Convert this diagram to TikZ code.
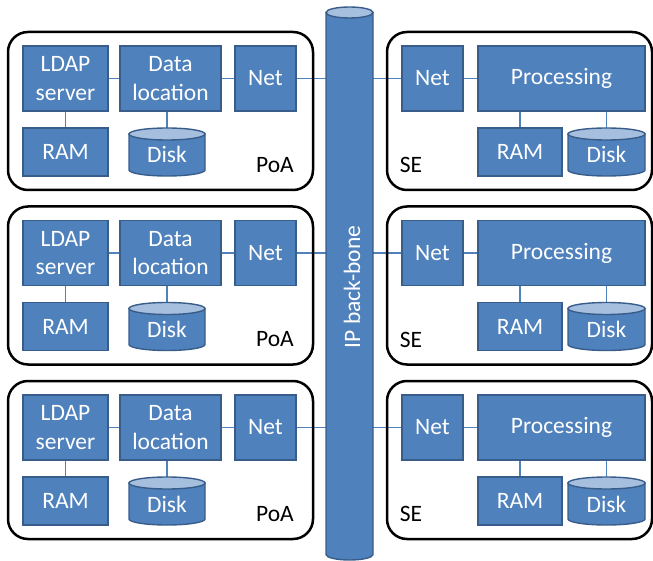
\documentclass[tikz,border=0pt]{standalone}
\usepackage{fontspec}
\setmainfont{Carlito}
\definecolor{boxfill}{HTML}{4F81BD}
\definecolor{boxline}{HTML}{385D8A}
\definecolor{drumtop}{HTML}{A7BFDE}
\pgfdeclarelayer{background}
\pgfsetlayers{background,main}

\tikzset{
  unit/.style={rectangle, fill=boxfill, draw=boxline, line width=1.4pt,
    text=white, align=center, inner sep=0pt,
    font=\fontsize{23.5}{28.5}\selectfont},
  drumlabel/.style={rectangle, inner sep=0pt, text=white,
    text height=22pt, text depth=0pt,
    font=\fontsize{23.5}{28.5}\selectfont},
  group/.style={rectangle, draw=black, line width=2.5pt, rounded corners=20pt},
  tag/.style={text=black, inner sep=0pt, font=\fontsize{23.5}{28.5}\selectfont},
  link/.style={draw=boxfill, line width=1.3pt}
}

% cylinder: left, top, right, bottom (downward y), radius of the end ellipse
\newcommand\drumshape[5]{%
  \filldraw[fill=boxfill, draw=boxline, line width=1.4pt]
    ({#1},{-(#2)-(#5)}) -- ({#1},{-(#4)+(#5)})
    arc[start angle=180, end angle=360, x radius={((#3)-(#1))/2}, y radius={#5}]
    -- ({#3},{-(#2)-(#5)}) -- cycle;
  \filldraw[fill=drumtop, draw=boxline, line width=1.4pt]
    ({((#1)+(#3))/2},{-(#2)-(#5)}) ellipse[x radius={((#3)-(#1))/2}, y radius={#5}];
}

\begin{document}
\begin{tikzpicture}[x=1pt, y=1pt]
\useasboundingbox (0,0) rectangle (653,-561);

\foreach \r/\dy in {1/0, 2/174.5, 3/349}{
  \begin{scope}[yshift={-\dy pt}]
    % point of access
    \node[group, minimum width=305pt, minimum height=158pt] (poa\r) at (160.5,-111) {};
    \node[unit, minimum width=85pt, minimum height=65pt] (ldap\r) at (65.5,-78.5) {LDAP\\server};
    \node[unit, minimum width=101pt, minimum height=65pt] (data\r) at (170.5,-78.5) {Data\\location};
    \node[unit, minimum width=61pt, minimum height=65pt] (net\r) at (265.5,-78.5) {Net};
    \node[unit, minimum width=85pt, minimum height=48pt] (ram\r) at (65.5,-152) {RAM};
    \drumshape{129}{128}{205}{176}{6}
    \node[drumlabel, minimum width=76pt, minimum height=48pt] (disk\r) at (167,-152) {Disk};
    \node[tag] (poatag\r) at (275,-165) {PoA};
    % storage element
    \node[group, minimum width=265pt, minimum height=158pt] (se\r) at (519.5,-111) {};
    \node[unit, minimum width=61pt, minimum height=65pt] (senet\r) at (432.5,-78.5) {Net};
    \node[unit, minimum width=167pt, minimum height=65pt] (proc\r) at (561.5,-78.5) {Processing};
    \node[unit, minimum width=84pt, minimum height=48pt] (seram\r) at (520,-152) {RAM};
    \drumshape{568}{128}{645}{176}{6}
    \node[drumlabel, minimum width=77pt, minimum height=48pt] (sedisk\r) at (606.5,-152) {Disk};
    \node[tag] (setag\r) at (411,-165) {SE};
    % links
    \begin{pgfonlayer}{background}
      \draw[link] (ldap\r) -- (data\r);
      \draw[link] (data\r) -- (net\r);
      \draw[link] (net\r) -- (senet\r);
      \draw[link] (senet\r) -- (proc\r);
      \draw[link] (ldap\r.south) -- (ram\r.north);
      \draw[link] (data\r.south -| disk\r.north) -- (disk\r.north);
      \draw[link] (proc\r.south -| seram\r.north) -- (seram\r.north);
      \draw[link] (proc\r.south -| sedisk\r.north) -- (sedisk\r.north);
    \end{pgfonlayer}
  \end{scope}
}

% backbone
\drumshape{326}{7}{373}{560}{5.5}
\node[rotate=90, text=white, inner sep=0pt, font=\fontsize{23.5}{28.5}\selectfont]
  (bb) at (352,-287) {IP back-bone};
\end{tikzpicture}
\end{document}
